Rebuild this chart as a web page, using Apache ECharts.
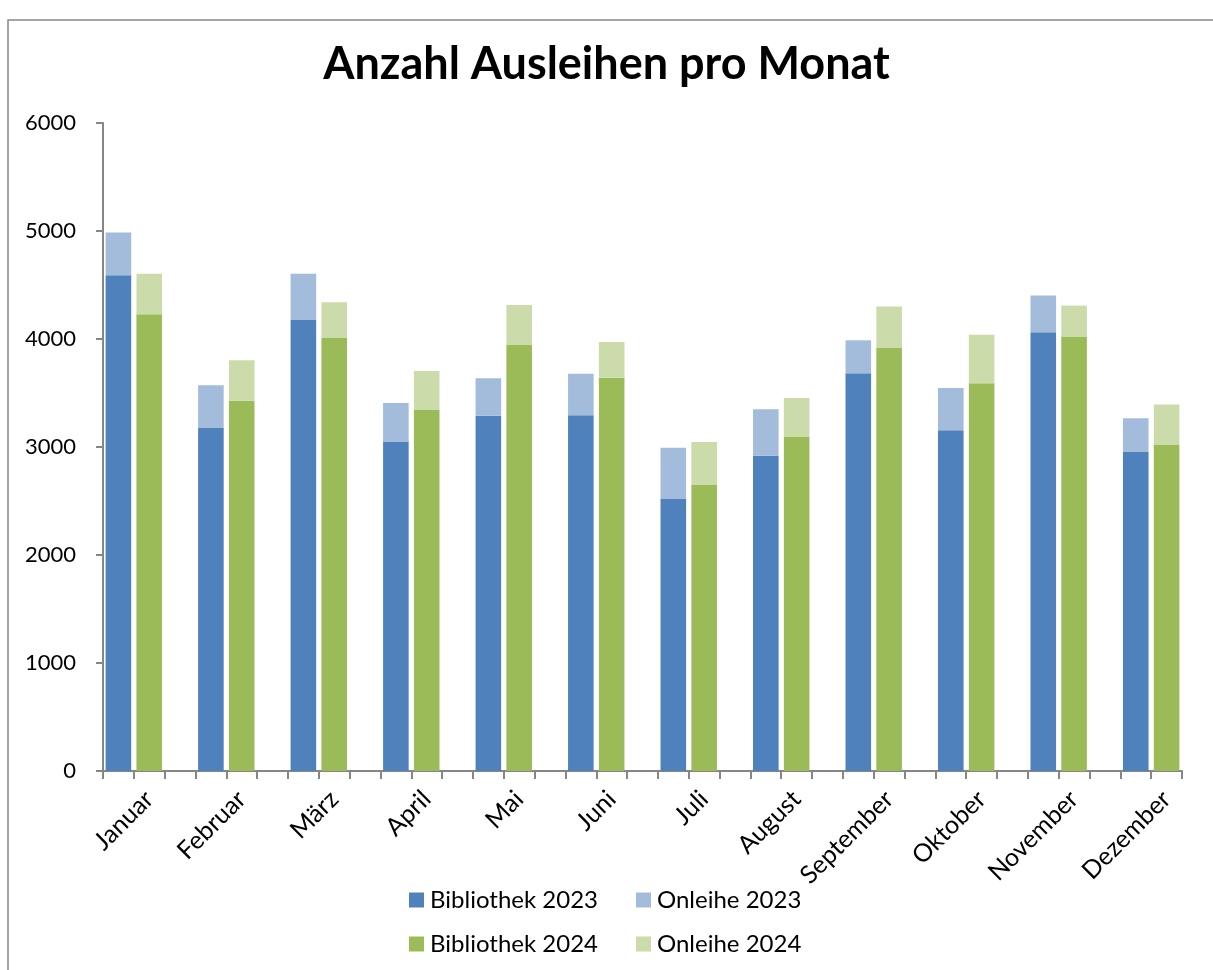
<!DOCTYPE html>
<html>
<head>
<meta charset="utf-8">
<script src="https://cdn.jsdelivr.net/npm/echarts@6/dist/echarts.min.js"></script>
<style>
  html, body { margin: 0; padding: 0; background: #fff; }
  #chart { width: 1213px; height: 970px; }
</style>
</head>
<body>
<div id="chart"></div>
<script>
let months = ["Januar", "Februar", "März", "April", "Mai", "Juni",
  "Juli", "August", "September", "Oktober", "November", "Dezember"];

let bibliothek2023 = [4590, 3176, 4176, 3050, 3290, 3293, 2522, 2920, 3682, 3155, 4062, 2954];
let onleihe2023 = [395, 395, 429, 357, 346, 386, 472, 429, 306, 391, 340, 312];
let bibliothek2024 = [4229, 3429, 4009, 3343, 3944, 3642, 2648, 3093, 3917, 3590, 4022, 3019];
let onleihe2024 = [376, 374, 331, 361, 371, 330, 398, 361, 383, 450, 287, 374];

let yTicks = [0, 1000, 2000, 3000, 4000, 5000, 6000];

let font = "Lato";

// each month takes 3 slots: 2023, 2024, gap (last gap dropped)
function slots() {
  let cats = [];
  months.forEach((m, i) => {
    cats.push(m + "|2023");
    cats.push(m + "|2024");
    if (i < months.length - 1) cats.push(m + "|gap");
  });
  return cats;
}

function spread(arr, offset) {
  let out = [];
  months.forEach((m, i) => {
    out.push(offset === 0 ? arr[i] : null);
    out.push(offset === 1 ? arr[i] : null);
    if (i < months.length - 1) out.push(null);
  });
  return out;
}

let colors = {
  "Bibliothek 2023": "#4F81BD",
  "Onleihe 2023": "#A3BCDC",
  "Bibliothek 2024": "#9BBB59",
  "Onleihe 2024": "#CBDBA9"
};

function barSeries(name, arr, offset) {
  return {
    name: name,
    type: "bar",
    stack: "total",
    barWidth: "83%",
    barGap: "-100%",
    data: spread(arr, offset),
    itemStyle: { color: colors[name] },
    emphasis: { disabled: true }
  };
}

function legendItem(name, left, top) {
  return {
    data: [name],
    left: left,
    top: top,
    padding: 0,
    icon: "rect",
    itemWidth: 15,
    itemHeight: 15,
    itemGap: 0,
    selectedMode: false,
    textStyle: { fontFamily: font, fontSize: 24, color: "#000", padding: [0, 0, 0, 1] }
  };
}

let myChart = echarts.init(document.getElementById("chart"));
myChart.setOption({
  animation: false,
  title: {
    text: "Anzahl Ausleihen pro Monat",
    left: "center",
    top: 37,
    textStyle: { fontFamily: font, fontSize: 45, fontWeight: "bold", color: "#000" }
  },
  graphic: [
    {
      type: "rect",
      shape: { x: 8, y: 20, width: 1400, height: 1200 },
      style: { fill: null, stroke: "#888", lineWidth: 1.5 },
      silent: true
    }
  ],
  legend: [
    legendItem("Bibliothek 2023", 409, 888),
    legendItem("Onleihe 2023", 636, 888),
    legendItem("Bibliothek 2024", 409, 932),
    legendItem("Onleihe 2024", 636, 932)
  ],
  grid: { left: 103, right: 31, top: 123, bottom: 199, containLabel: false },
  xAxis: {
    type: "category",
    data: slots(),
    axisLine: { lineStyle: { color: "#868686", width: 2 } },
    axisTick: { show: true, interval: 0, length: 8, lineStyle: { color: "#868686", width: 2 } },
    axisLabel: {
      interval: 0,
      rotate: 45,
      margin: 24,
      fontFamily: font,
      fontSize: 25,
      color: "#000",
      formatter: v => (v.endsWith("|2024") ? v.split("|")[0] : "")
    }
  },
  yAxis: {
    type: "value",
    min: yTicks[0],
    max: yTicks[yTicks.length - 1],
    interval: 1000,
    splitLine: { show: false },
    axisLine: { show: true, lineStyle: { color: "#868686", width: 2 } },
    axisTick: { show: true, length: 7, lineStyle: { color: "#868686", width: 2 } },
    axisLabel: { margin: 27, fontFamily: font, fontSize: 22, color: "#000", formatter: v => String(v) }
  },
  series: [
    barSeries("Bibliothek 2023", bibliothek2023, 0),
    barSeries("Onleihe 2023", onleihe2023, 0),
    barSeries("Bibliothek 2024", bibliothek2024, 1),
    barSeries("Onleihe 2024", onleihe2024, 1)
  ]
});
</script>
</body>
</html>
